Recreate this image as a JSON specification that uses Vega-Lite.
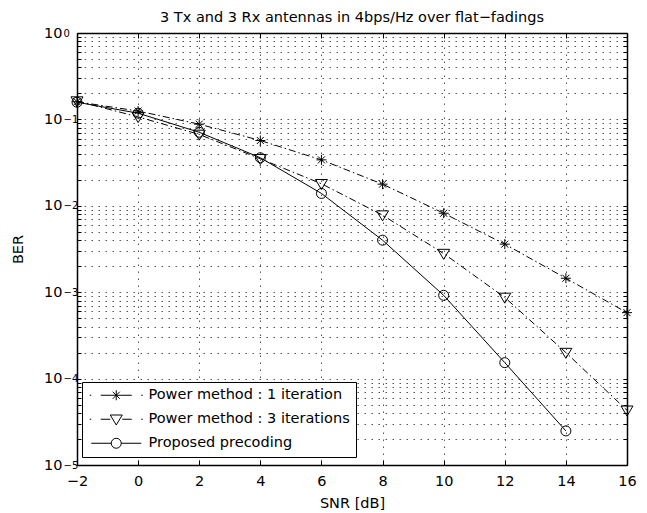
{
  "$schema": "https://vega.github.io/schema/vega-lite/v6.json",
  "width": 550,
  "height": 432,
  "autosize": "none",
  "padding": {"left": 77, "top": 33, "right": 20, "bottom": 48},
  "background": "white",
  "title": {
    "text": "3 Tx and 3 Rx antennas in 4bps/Hz over flat−fadings",
    "fontSize": 14.5,
    "fontWeight": "normal",
    "font": "DejaVu Sans",
    "color": "black",
    "baseline": "alphabetic",
    "offset": -11
  },
  "config": {
    "view": {"stroke": null},
    "font": "DejaVu Sans",
    "axis": {
      "labelFont": "DejaVu Sans",
      "titleFont": "DejaVu Sans",
      "labelColor": "black",
      "titleColor": "black",
      "labelFontSize": 14.5,
      "titleFontSize": 14.5,
      "titleFontWeight": "normal",
      "domainColor": "black",
      "domainWidth": 1.5,
      "tickColor": "black",
      "tickWidth": 1,
      "gridColor": "#555555",
      "gridDash": [1.5, 5.5],
      "gridWidth": 1,
      "labelOverlap": false,
      "labelFlush": false,
      "labelBound": false
    }
  },
  "data": {
    "values": [
      {"series": "Power method : 1 iteration", "snr": -2, "ber": 0.16},
      {"series": "Power method : 1 iteration", "snr": 0, "ber": 0.125},
      {"series": "Power method : 1 iteration", "snr": 2, "ber": 0.088},
      {"series": "Power method : 1 iteration", "snr": 4, "ber": 0.057},
      {"series": "Power method : 1 iteration", "snr": 6, "ber": 0.034},
      {"series": "Power method : 1 iteration", "snr": 8, "ber": 0.0178},
      {"series": "Power method : 1 iteration", "snr": 10, "ber": 0.0082},
      {"series": "Power method : 1 iteration", "snr": 12, "ber": 0.0036},
      {"series": "Power method : 1 iteration", "snr": 14, "ber": 0.00145},
      {"series": "Power method : 1 iteration", "snr": 16, "ber": 0.00058},
      {"series": "Power method : 3 iterations", "snr": -2, "ber": 0.163},
      {"series": "Power method : 3 iterations", "snr": 0, "ber": 0.107},
      {"series": "Power method : 3 iterations", "snr": 2, "ber": 0.067},
      {"series": "Power method : 3 iterations", "snr": 4, "ber": 0.035},
      {"series": "Power method : 3 iterations", "snr": 6, "ber": 0.018},
      {"series": "Power method : 3 iterations", "snr": 8, "ber": 0.0078},
      {"series": "Power method : 3 iterations", "snr": 10, "ber": 0.0028},
      {"series": "Power method : 3 iterations", "snr": 12, "ber": 0.00087},
      {"series": "Power method : 3 iterations", "snr": 14, "ber": 0.0002},
      {"series": "Power method : 3 iterations", "snr": 16, "ber": 0.000043},
      {"series": "Proposed precoding", "snr": -2, "ber": 0.158},
      {"series": "Proposed precoding", "snr": 0, "ber": 0.118},
      {"series": "Proposed precoding", "snr": 2, "ber": 0.071},
      {"series": "Proposed precoding", "snr": 4, "ber": 0.036},
      {"series": "Proposed precoding", "snr": 6, "ber": 0.0139},
      {"series": "Proposed precoding", "snr": 8, "ber": 0.004},
      {"series": "Proposed precoding", "snr": 10, "ber": 0.00092},
      {"series": "Proposed precoding", "snr": 12, "ber": 0.000153},
      {"series": "Proposed precoding", "snr": 14, "ber": 0.0000248}
    ]
  },
  "layer": [
    {
      "transform": [{"filter": "datum.series !== 'Proposed precoding'"}],
      "mark": {"type": "line", "color": "black", "strokeWidth": 1, "strokeDash": [7, 3, 1.5, 3]},
      "encoding": {
        "x": {
          "field": "snr", "type": "quantitative",
          "scale": {"domain": [-2, 16], "nice": false, "zero": false},
          "axis": {
            "orient": "bottom",
            "values": [-2, 0, 2, 4, 6, 8, 10, 12, 14, 16],
            "grid": true,
            "tickSize": -5,
            "labelPadding": 14,
            "title": "SNR [dB]",
            "titleY": 42,
            "titleBaseline": "alphabetic"
          }
        },
        "y": {
          "field": "ber", "type": "quantitative",
          "scale": {"type": "log", "domain": [0.00001, 1], "nice": false},
          "axis": {
            "orient": "left",
            "values": [0.00001, 0.00002, 0.00003, 0.00004, 0.00005, 0.00006, 0.00007, 0.00008, 0.00009,
                       0.0001, 0.0002, 0.0003, 0.0004, 0.0005, 0.0006, 0.0007, 0.0008, 0.0009,
                       0.001, 0.002, 0.003, 0.004, 0.005, 0.006, 0.007, 0.008, 0.009,
                       0.01, 0.02, 0.03, 0.04, 0.05, 0.06, 0.07, 0.08, 0.09,
                       0.1, 0.2, 0.3, 0.4, 0.5, 0.6, 0.7, 0.8, 0.9, 1],
            "labelExpr": "abs(log(datum.value)/LN10 - round(log(datum.value)/LN10)) < 0.001 ? '10' : ''",
            "grid": true,
            "tickSize": -4,
            "labelPadding": 19,
            "labelDy": 2,
            "title": "BER",
            "titleX": -52,
            "titleY": 216
          }
        },
        "detail": {"field": "series"}
      }
    },
    {
      "transform": [{"filter": "datum.series === 'Proposed precoding'"}],
      "mark": {"type": "line", "color": "black", "strokeWidth": 1},
      "encoding": {
        "x": {
          "field": "snr", "type": "quantitative",
          "axis": {
            "orient": "top",
            "values": [-2, 0, 2, 4, 6, 8, 10, 12, 14, 16],
            "labels": false,
            "grid": false,
            "tickSize": -5,
            "title": null
          }
        },
        "y": {
          "field": "ber", "type": "quantitative",
          "axis": {
            "orient": "left",
            "values": [0.00001, 0.0001, 0.001, 0.01, 0.1, 1],
            "labelExpr": "format(round(log(datum.value)/LN10), 'd')",
            "labelAlign": "left",
            "labelFontSize": 10,
            "labelPadding": 14,
            "labelDy": -7,
            "ticks": false,
            "domain": false,
            "grid": false,
            "title": null
          }
        }
      }
    },
    {
      "mark": {"type": "point", "filled": false, "strokeWidth": 1, "size": 100, "opacity": 1},
      "encoding": {
        "x": {"field": "snr", "type": "quantitative", "axis": null},
        "y": {
          "field": "ber", "type": "quantitative",
          "axis": {
            "orient": "right",
            "values": [0.00001, 0.00002, 0.00003, 0.00004, 0.00005, 0.00006, 0.00007, 0.00008, 0.00009,
                       0.0001, 0.0002, 0.0003, 0.0004, 0.0005, 0.0006, 0.0007, 0.0008, 0.0009,
                       0.001, 0.002, 0.003, 0.004, 0.005, 0.006, 0.007, 0.008, 0.009,
                       0.01, 0.02, 0.03, 0.04, 0.05, 0.06, 0.07, 0.08, 0.09,
                       0.1, 0.2, 0.3, 0.4, 0.5, 0.6, 0.7, 0.8, 0.9, 1],
            "labels": false,
            "grid": false,
            "tickSize": -4,
            "title": null
          }
        },
        "shape": {
          "field": "series", "type": "nominal",
          "scale": {
            "range": [
              "M-1,0L1,0M0,-1L0,1M-0.7,-0.7L0.7,0.7M-0.7,0.7L0.7,-0.7",
              "M-1.2,-0.85L1.2,-0.85L0,1.15Z",
              "M-1,0A1,1 0 1,0 1,0A1,1 0 1,0 -1,0"
            ]
          },
          "legend": null
        },
        "stroke": {
          "field": "series", "type": "nominal",
          "scale": {
            "domain": ["Power method : 1 iteration", "Power method : 3 iterations", "Proposed precoding"],
            "range": ["black", "black", "black"]
          },
          "legend": {
            "orient": "none",
            "legendX": 5,
            "legendY": 349,
            "title": null,
            "strokeColor": "black",
            "fillColor": "white",
            "padding": 6,
            "labelFont": "DejaVu Sans",
            "labelFontSize": 14.5,
            "labelColor": "black",
            "labelLimit": 0,
            "symbolSize": 100,
            "symbolOffset": 21,
            "labelOffset": 25,
            "rowPadding": 8,
            "symbolFillColor": "transparent",
            "symbolStrokeWidth": 1,
            "symbolOpacity": 1,
            "symbolType": {"expr": "datum.value === 'Proposed precoding' ? 'M-5,0L-1,0M1,0L5,0M-1,0A1,1 0 1,0 1,0A1,1 0 1,0 -1,0' : datum.value === 'Power method : 3 iterations' ? 'M-5.3,0L-5,0M-3.1,0L-1.2,0M1.2,0L3.1,0M5,0L5.3,0M-1.2,-0.85L1.2,-0.85L0,1.15Z' : 'M-5.3,0L-5,0M-3.1,0L-1,0M1,0L3.1,0M5,0L5.3,0M-1,0L1,0M0,-1L0,1M-0.7,-0.7L0.7,0.7M-0.7,0.7L0.7,-0.7'"}
          }
        }
      }
    }
  ],
  "resolve": {"axis": {"x": "independent", "y": "independent"}}
}
